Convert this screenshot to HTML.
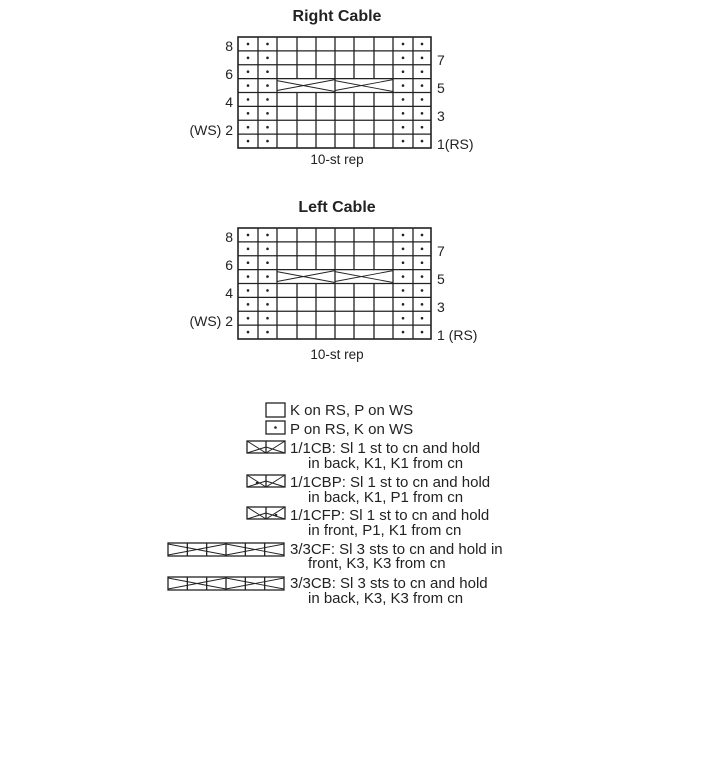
<!DOCTYPE html>
<html><head><meta charset="utf-8"><style>
html,body{margin:0;padding:0;background:#fff;}
svg text{font-family:"Liberation Sans",sans-serif;fill:#222;}
</style></head><body>
<svg id="s" width="725" height="768" viewBox="0 0 725 768" xmlns="http://www.w3.org/2000/svg">
<g font-size="16" font-weight="bold" text-anchor="middle">
<text x="337" y="21">Right Cable</text>
<text x="337" y="212">Left Cable</text>
</g>
<g font-size="14" text-anchor="end">
<text x="233" y="51">8</text><text x="233" y="79">6</text><text x="233" y="107">4</text><text x="233" y="135">(WS) 2</text>
<text x="233" y="242">8</text><text x="233" y="270">6</text><text x="233" y="298">4</text><text x="233" y="326">(WS) 2</text>
</g>
<g font-size="14">
<text x="437" y="65">7</text><text x="437" y="93">5</text><text x="437" y="121">3</text><text x="437" y="149">1(RS)</text>
<text x="437" y="256">7</text><text x="437" y="284">5</text><text x="437" y="312">3</text><text x="437" y="340">1 (RS)</text>
</g>
<g font-size="13.5" text-anchor="middle">
<text x="337" y="164">10-st rep</text>
<text x="337" y="359">10-st rep</text>
</g>
<g font-size="15" textLength="0">
<text x="290" y="415">K on RS, P on WS</text>
<text x="290" y="434">P on RS, K on WS</text>
<text x="290" y="453">1/1CB: Sl 1 st to cn and hold</text>
<text x="308" y="468">in back, K1, K1 from cn</text>
<text x="290" y="487">1/1CBP: Sl 1 st to cn and hold</text>
<text x="308" y="502">in back, K1, P1 from cn</text>
<text x="290" y="520">1/1CFP: Sl 1 st to cn and hold</text>
<text x="308" y="535">in front, P1, K1 from cn</text>
<text x="290" y="554">3/3CF: Sl 3 sts to cn and hold in</text>
<text x="308" y="568">front, K3, K3 from cn</text>
<text x="290" y="588">3/3CB: Sl 3 sts to cn and hold</text>
<text x="308" y="603">in back, K3, K3 from cn</text>
</g>
<g id="g" stroke="#222" fill="none" stroke-width="1.3"></g>
</svg>
<script>
var g=document.getElementById('g'),NS='http://www.w3.org/2000/svg';
function el(t,a){var e=document.createElementNS(NS,t);for(var k in a)e.setAttribute(k,a[k]);g.appendChild(e);return e;}
function ln(a,b,c,d,w){el('line',{x1:a,y1:b,x2:c,y2:d,'stroke-width':w||1.3});}
function dot(x,y){el('circle',{cx:x,cy:y,r:1.3,fill:'#222',stroke:'none'});}
var xs=[238,258,277,297,316,335,354,374,393,413,431];
function chart(top){
 var h=(111)/8;
 el('rect',{x:238,y:top,width:193,height:111,'stroke-width':1.6});
 for(var r=1;r<8;r++)ln(238,top+r*h,431,top+r*h);
 for(var r=0;r<8;r++){
  var y0=top+r*h,y1=y0+h;
  for(var c=1;c<10;c++){
   if(r==3&&c>=3&&c<=7&&c!=5)continue;
   ln(xs[c],y0,xs[c],y1);
  }
  [0,1,8,9].forEach(function(c){dot((xs[c]+xs[c+1])/2,y0+h/2);});
 }
 var y0=top+3*h,y1=y0+h;
 [[277,335],[335,393]].forEach(function(p){ln(p[0],y0+2,p[1],y1-1,0.9);ln(p[0],y1-2,p[1],y0+1,0.9);});
}
chart(37);chart(228);
el('rect',{x:266,y:403,width:19,height:14});
el('rect',{x:266,y:421,width:19,height:13});dot(275.5,427.5);
function pair(y,d1,d2){
 el('rect',{x:247,y:y,width:38,height:12});ln(266,y,266,y+12);
 ln(247,y,266,y+12,1);ln(247,y+12,266,y+6,1);
 ln(266,y+12,285,y,1);ln(266,y+6,285,y+12,1);
 if(d1)dot(257,y+8);if(d2)dot(276,y+8);
}
pair(441);pair(475,1,0);pair(507,0,1);
function six(y){
 var w=(284-168)/6;
 el('rect',{x:168,y:y,width:116,height:13});
 for(var i=1;i<6;i++)ln(168+i*w,y,168+i*w,y+13);
 ln(168,y+1,226,y+12,0.9);ln(168,y+12,226,y+1,0.9);
 ln(226,y+12,284,y+1,0.9);ln(226,y+1,284,y+12,0.9);
}
six(543);six(577);
</script>
</body></html>
